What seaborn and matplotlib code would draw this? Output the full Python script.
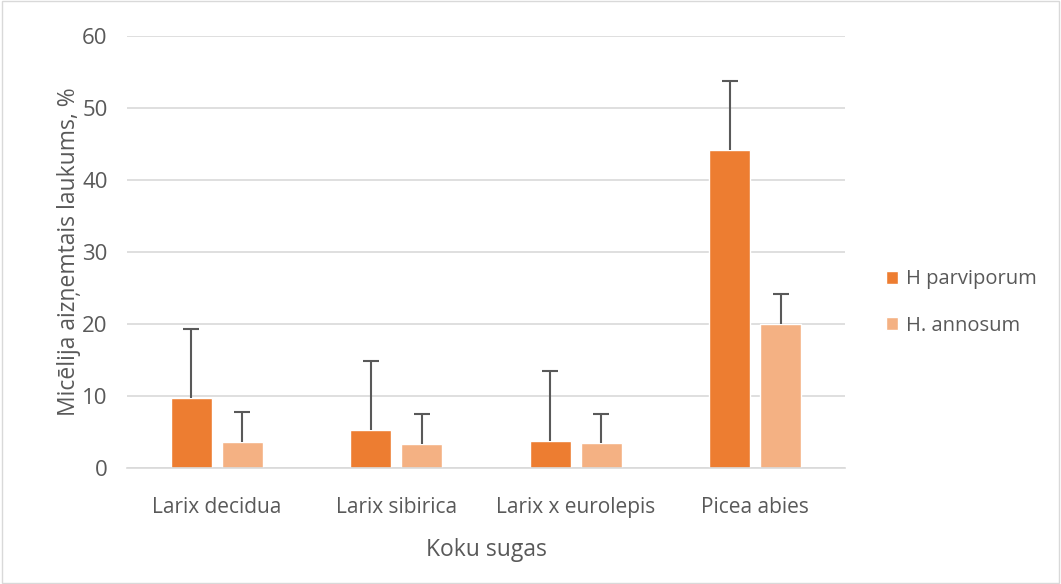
import numpy as np
import pandas as pd
import matplotlib
matplotlib.use("Agg")
import matplotlib.pyplot as plt
import seaborn as sns

species = ["Larix decidua", "Larix sibirica", "Larix x eurolepis", "Picea abies"]
series_names = ["H parviporum", "H. annosum"]
parviporum = [9.75, 5.3, 3.75, 44.2]
parviporum_err = [9.5, 9.55, 9.7, 9.6]
annosum = [3.6, 3.35, 3.45, 20.05]
annosum_err = [4.2, 4.15, 4.1, 4.15]
colors = ["#ED7D31", "#F4B183"]

df = pd.DataFrame({
    "species": species * 2,
    "series": [series_names[0]] * 4 + [series_names[1]] * 4,
    "value": parviporum + annosum,
})

sns.set_theme(style="white")
plt.rcParams["font.family"] = ["Open Sans", "DejaVu Sans"]
text_color = "#595959"

fig = plt.figure(figsize=(10.61, 5.84), dpi=100)
ax = fig.add_axes([127 / 1061, 1 - 468 / 584, (845 - 127) / 1061, (468 - 36) / 584])

sns.barplot(data=df, x="species", y="value", hue="series", order=species,
            hue_order=series_names, palette=colors, width=0.57, gap=0.2,
            errorbar=None, ax=ax, saturation=1)

errs = [parviporum_err, annosum_err]
vals = [parviporum, annosum]
bar_containers = list(ax.containers)
for i, cont in enumerate(bar_containers):
    xs = [p.get_x() + p.get_width() / 2 for p in cont.patches]
    eb = ax.errorbar(xs, vals[i], yerr=[np.zeros(4), errs[i]], fmt="none",
                     ecolor="#595959", elinewidth=1.5, capsize=6, capthick=1.5, zorder=3)
    caps = eb.lines[1]
    if len(caps) > 0:
        caps[0].set_visible(False)

ax.set_ylim(0, 60)
ax.set_yticks(range(0, 61, 10))
ax.set_xlim(-0.5, 3.5)
ax.yaxis.grid(True, color="#D9D9D9", linewidth=1.2)
ax.set_axisbelow(True)
for s in ["top", "right", "left"]:
    ax.spines[s].set_visible(False)
ax.spines["bottom"].set_color("#D9D9D9")
ax.spines["bottom"].set_linewidth(1.2)
ax.tick_params(axis="x", length=0, labelsize=15, colors=text_color, pad=21)
ax.tick_params(axis="y", length=0, labelsize=16, colors=text_color, pad=14)
ax.set_xlabel("Koku sugas", fontsize=16.5, color=text_color, labelpad=14)
ax.set_ylabel("Micēlija aizņemtais laukums, %", fontsize=16.5, color=text_color, labelpad=1)

ax.legend(loc="center left", bbox_to_anchor=(1.032, 0.383), frameon=False,
          fontsize=14.5, labelcolor=text_color, handlelength=0.6, handleheight=0.6,
          handletextpad=0.4, labelspacing=1.3)

fig.patches.append(matplotlib.patches.Rectangle((0.002, 0.002), 0.996, 0.996,
                   transform=fig.transFigure, fill=False, edgecolor="#D9D9D9", linewidth=1))

fig.savefig("out.png", dpi=100, facecolor="white")
